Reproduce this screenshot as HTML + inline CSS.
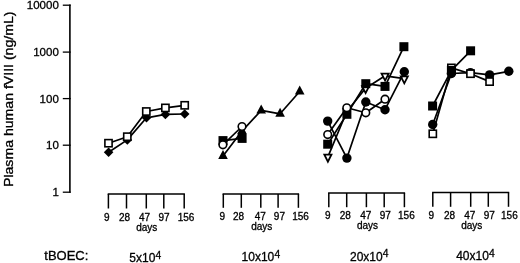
<!DOCTYPE html>
<html><head><meta charset="utf-8"><title>Plasma human fVIII</title>
<style>
html,body{margin:0;padding:0;background:#fff;}
body{width:520px;height:263px;overflow:hidden;}
svg{display:block;font-family:"Liberation Sans",sans-serif;fill:#000;}
text{stroke:#000;stroke-width:0.3px;}
</style></head><body>
<svg width="520" height="263" viewBox="0 0 520 263">
<rect width="520" height="263" fill="#fff"/>
<path d="M69.9 4.6 V192.8" stroke="#000" stroke-width="1.6" fill="none"/>
<path d="M62.8 5.2 H70.7" stroke="#000" stroke-width="1.3" fill="none"/>
<path d="M62.8 52.1 H70.7" stroke="#000" stroke-width="1.3" fill="none"/>
<path d="M62.8 98.6 H70.7" stroke="#000" stroke-width="1.3" fill="none"/>
<path d="M62.8 145.2 H70.7" stroke="#000" stroke-width="1.3" fill="none"/>
<path d="M62.8 192.2 H70.7" stroke="#000" stroke-width="1.3" fill="none"/>
<text x="58.8" y="9.2" font-size="11.5" text-anchor="end">10000</text>
<text x="58.8" y="56.1" font-size="11.5" text-anchor="end">1000</text>
<text x="58.8" y="102.6" font-size="11.5" text-anchor="end">100</text>
<text x="58.8" y="149.2" font-size="11.5" text-anchor="end">10</text>
<text x="58.8" y="196.2" font-size="11.5" text-anchor="end">1</text>
<text transform="translate(12.5 187) rotate(-90)" font-size="12" textLength="175.5" lengthAdjust="spacingAndGlyphs">Plasma human fVIII (ng/mL)</text>
<path d="M107.7 194.0 H184.9" stroke="#000" stroke-width="1.5" fill="none"/>
<path d="M108.4 194.0 V208.5" stroke="#000" stroke-width="1.5" fill="none"/>
<path d="M126.5 194.0 V208.5" stroke="#000" stroke-width="1.5" fill="none"/>
<path d="M146.3 194.0 V208.5" stroke="#000" stroke-width="1.5" fill="none"/>
<path d="M163.8 194.0 V208.5" stroke="#000" stroke-width="1.5" fill="none"/>
<path d="M184.2 194.0 V208.5" stroke="#000" stroke-width="1.5" fill="none"/>
<text x="106.7" y="220.5" font-size="10" text-anchor="middle">9</text>
<text x="124.5" y="220.5" font-size="10" text-anchor="middle">28</text>
<text x="144.5" y="220.5" font-size="10" text-anchor="middle">47</text>
<text x="164.0" y="220.5" font-size="10" text-anchor="middle">97</text>
<text x="186.0" y="220.5" font-size="10" text-anchor="middle">156</text>
<text x="146.8" y="230.6" font-size="10" text-anchor="middle">days</text>
<path d="M222.6 193.9 H299.1" stroke="#000" stroke-width="1.5" fill="none"/>
<path d="M223.3 193.9 V207.8" stroke="#000" stroke-width="1.5" fill="none"/>
<path d="M241.3 193.9 V207.8" stroke="#000" stroke-width="1.5" fill="none"/>
<path d="M260.8 193.9 V207.8" stroke="#000" stroke-width="1.5" fill="none"/>
<path d="M278.1 193.9 V207.8" stroke="#000" stroke-width="1.5" fill="none"/>
<path d="M298.4 193.9 V207.8" stroke="#000" stroke-width="1.5" fill="none"/>
<text x="222.3" y="219.9" font-size="10" text-anchor="middle">9</text>
<text x="238.6" y="219.9" font-size="10" text-anchor="middle">28</text>
<text x="260.3" y="219.9" font-size="10" text-anchor="middle">47</text>
<text x="279.4" y="219.9" font-size="10" text-anchor="middle">97</text>
<text x="300.5" y="219.9" font-size="10" text-anchor="middle">156</text>
<text x="261.8" y="230.0" font-size="10" text-anchor="middle">days</text>
<path d="M328.1 193.0 H405.1" stroke="#000" stroke-width="1.5" fill="none"/>
<path d="M328.8 193.0 V207.2" stroke="#000" stroke-width="1.5" fill="none"/>
<path d="M346.7 193.0 V207.2" stroke="#000" stroke-width="1.5" fill="none"/>
<path d="M366.4 193.0 V207.2" stroke="#000" stroke-width="1.5" fill="none"/>
<path d="M384.2 193.0 V207.2" stroke="#000" stroke-width="1.5" fill="none"/>
<path d="M404.4 193.0 V207.2" stroke="#000" stroke-width="1.5" fill="none"/>
<text x="327.7" y="219.3" font-size="10" text-anchor="middle">9</text>
<text x="345.3" y="219.3" font-size="10" text-anchor="middle">28</text>
<text x="365.8" y="219.3" font-size="10" text-anchor="middle">47</text>
<text x="385.2" y="219.3" font-size="10" text-anchor="middle">97</text>
<text x="406.4" y="219.3" font-size="10" text-anchor="middle">156</text>
<text x="367.5" y="229.4" font-size="10" text-anchor="middle">days</text>
<path d="M432.1 192.4 H509.2" stroke="#000" stroke-width="1.5" fill="none"/>
<path d="M432.8 192.4 V206.8" stroke="#000" stroke-width="1.5" fill="none"/>
<path d="M450.6 192.4 V206.8" stroke="#000" stroke-width="1.5" fill="none"/>
<path d="M470.7 192.4 V206.8" stroke="#000" stroke-width="1.5" fill="none"/>
<path d="M488.3 192.4 V206.8" stroke="#000" stroke-width="1.5" fill="none"/>
<path d="M508.5 192.4 V206.8" stroke="#000" stroke-width="1.5" fill="none"/>
<text x="431.2" y="218.8" font-size="10" text-anchor="middle">9</text>
<text x="449.6" y="218.8" font-size="10" text-anchor="middle">28</text>
<text x="469.7" y="218.8" font-size="10" text-anchor="middle">47</text>
<text x="489.3" y="218.8" font-size="10" text-anchor="middle">97</text>
<text x="509.4" y="218.8" font-size="10" text-anchor="middle">156</text>
<text x="471.8" y="228.8" font-size="10" text-anchor="middle">days</text>
<text x="44.3" y="259.6" font-size="13">tBOEC:</text>
<text x="129.3" y="262.0" font-size="12">5x10<tspan dx="0.1" dy="-3.5" font-size="10.3">4</tspan></text>
<text x="241.6" y="261.3" font-size="12">10x10<tspan dx="0.1" dy="-3.5" font-size="10.3">4</tspan></text>
<text x="350.0" y="260.6" font-size="12">20x10<tspan dx="0.1" dy="-3.5" font-size="10.3">4</tspan></text>
<text x="456.2" y="260.1" font-size="12">40x10<tspan dx="0.1" dy="-3.5" font-size="10.3">4</tspan></text>
<path d="M108.6 152.3 L127.3 139.9 L146.5 117.8 L165.4 114.4 L184.7 114.0" fill="none" stroke="#000" stroke-width="1.7" stroke-linejoin="round"/>
<path d="M108.6 147.5 L113.4 152.3 L108.6 157.1 L103.8 152.3Z" fill="#000"/>
<path d="M127.3 135.1 L132.1 139.9 L127.3 144.7 L122.5 139.9Z" fill="#000"/>
<path d="M146.5 113.0 L151.3 117.8 L146.5 122.6 L141.7 117.8Z" fill="#000"/>
<path d="M165.4 109.6 L170.2 114.4 L165.4 119.2 L160.6 114.4Z" fill="#000"/>
<path d="M184.7 109.2 L189.5 114.0 L184.7 118.8 L179.9 114.0Z" fill="#000"/>
<path d="M108.5 143.2 L127.3 136.7 L146.3 111.5 L165.4 107.9 L184.7 105.3" fill="none" stroke="#000" stroke-width="1.7" stroke-linejoin="round"/>
<rect x="104.90" y="139.60" width="7.20" height="7.20" fill="#fff" stroke="#000" stroke-width="1.6"/>
<rect x="123.70" y="133.10" width="7.20" height="7.20" fill="#fff" stroke="#000" stroke-width="1.6"/>
<rect x="142.70" y="107.90" width="7.20" height="7.20" fill="#fff" stroke="#000" stroke-width="1.6"/>
<rect x="161.80" y="104.30" width="7.20" height="7.20" fill="#fff" stroke="#000" stroke-width="1.6"/>
<rect x="181.10" y="101.70" width="7.20" height="7.20" fill="#fff" stroke="#000" stroke-width="1.6"/>
<path d="M223.0 156.1 L242.0 131.1 L261.2 110.4 L280.1 113.8 L299.7 91.5" fill="none" stroke="#000" stroke-width="1.7" stroke-linejoin="round"/>
<path d="M223.0 150.1 L227.8 159.1 L218.2 159.1Z" fill="#000"/>
<path d="M242.0 125.1 L246.8 134.1 L237.2 134.1Z" fill="#000"/>
<path d="M261.2 104.4 L266.0 113.4 L256.4 113.4Z" fill="#000"/>
<path d="M280.1 107.8 L284.9 116.8 L275.3 116.8Z" fill="#000"/>
<path d="M299.7 85.5 L304.5 94.5 L294.9 94.5Z" fill="#000"/>
<path d="M223.0 140.6 L242.1 138.4" fill="none" stroke="#000" stroke-width="1.7" stroke-linejoin="round"/>
<rect x="218.5" y="136.1" width="9.0" height="9.0" fill="#000"/>
<rect x="237.6" y="133.9" width="9.0" height="9.0" fill="#000"/>
<path d="M222.9 144.8 L242.0 126.5" fill="none" stroke="#000" stroke-width="1.7" stroke-linejoin="round"/>
<circle cx="222.9" cy="144.8" r="3.80" fill="#fff" stroke="#000" stroke-width="1.6"/>
<circle cx="242.0" cy="126.5" r="3.80" fill="#fff" stroke="#000" stroke-width="1.6"/>
<path d="M327.9 156.9 L346.8 111.5 L365.6 88.3 L385.1 75.8 L404.3 78.6" fill="none" stroke="#000" stroke-width="1.7" stroke-linejoin="round"/>
<path d="M324.36 154.65 L331.44 154.65 L327.90 161.65Z" fill="#fff" stroke="#000" stroke-width="1.8" stroke-linejoin="miter" stroke-miterlimit="10"/>
<path d="M343.26 109.25 L350.34 109.25 L346.80 116.25Z" fill="#fff" stroke="#000" stroke-width="1.8" stroke-linejoin="miter" stroke-miterlimit="10"/>
<path d="M362.06 86.05 L369.14 86.05 L365.60 93.05Z" fill="#fff" stroke="#000" stroke-width="1.8" stroke-linejoin="miter" stroke-miterlimit="10"/>
<path d="M381.56 73.55 L388.64 73.55 L385.10 80.55Z" fill="#fff" stroke="#000" stroke-width="1.8" stroke-linejoin="miter" stroke-miterlimit="10"/>
<path d="M400.76 76.35 L407.84 76.35 L404.30 83.35Z" fill="#fff" stroke="#000" stroke-width="1.8" stroke-linejoin="miter" stroke-miterlimit="10"/>
<path d="M327.7 144.2 L346.9 114.3 L365.8 83.7 L385.0 86.4 L403.9 46.7" fill="none" stroke="#000" stroke-width="1.7" stroke-linejoin="round"/>
<rect x="323.2" y="139.7" width="9.0" height="9.0" fill="#000"/>
<rect x="342.4" y="109.8" width="9.0" height="9.0" fill="#000"/>
<rect x="361.3" y="79.2" width="9.0" height="9.0" fill="#000"/>
<rect x="380.5" y="81.9" width="9.0" height="9.0" fill="#000"/>
<rect x="399.4" y="42.2" width="9.0" height="9.0" fill="#000"/>
<path d="M327.7 121.1 L346.9 158.1 L365.8 102.0 L385.0 109.7 L404.3 71.8" fill="none" stroke="#000" stroke-width="1.7" stroke-linejoin="round"/>
<circle cx="327.7" cy="121.1" r="4.7" fill="#000"/>
<circle cx="346.9" cy="158.1" r="4.7" fill="#000"/>
<circle cx="365.8" cy="102.0" r="4.7" fill="#000"/>
<circle cx="385.0" cy="109.7" r="4.7" fill="#000"/>
<circle cx="404.3" cy="71.8" r="4.7" fill="#000"/>
<path d="M327.7 134.6 L346.8 107.8 L365.8 112.8 L385.0 99.2" fill="none" stroke="#000" stroke-width="1.7" stroke-linejoin="round"/>
<circle cx="327.7" cy="134.6" r="3.80" fill="#fff" stroke="#000" stroke-width="1.6"/>
<circle cx="346.8" cy="107.8" r="3.80" fill="#fff" stroke="#000" stroke-width="1.6"/>
<circle cx="365.8" cy="112.8" r="3.80" fill="#fff" stroke="#000" stroke-width="1.6"/>
<circle cx="385.0" cy="99.2" r="3.80" fill="#fff" stroke="#000" stroke-width="1.6"/>
<path d="M432.7 124.5 L451.4 73.5 L470.4 72.6 L489.6 74.9 L508.8 71.3" fill="none" stroke="#000" stroke-width="1.7" stroke-linejoin="round"/>
<circle cx="432.7" cy="124.5" r="4.7" fill="#000"/>
<circle cx="451.4" cy="73.5" r="4.7" fill="#000"/>
<circle cx="470.4" cy="72.6" r="4.7" fill="#000"/>
<circle cx="489.6" cy="74.9" r="4.7" fill="#000"/>
<circle cx="508.8" cy="71.3" r="4.7" fill="#000"/>
<path d="M432.8 133.8 L451.4 67.9 L470.5 73.7 L489.6 81.6" fill="none" stroke="#000" stroke-width="1.7" stroke-linejoin="round"/>
<rect x="429.20" y="130.20" width="7.20" height="7.20" fill="#fff" stroke="#000" stroke-width="1.6"/>
<rect x="447.80" y="64.30" width="7.20" height="7.20" fill="#fff" stroke="#000" stroke-width="1.6"/>
<rect x="466.90" y="70.10" width="7.20" height="7.20" fill="#fff" stroke="#000" stroke-width="1.6"/>
<rect x="486.00" y="78.00" width="7.20" height="7.20" fill="#fff" stroke="#000" stroke-width="1.6"/>
<path d="M432.6 106.0 L451.4 70.4 L470.6 50.8" fill="none" stroke="#000" stroke-width="1.7" stroke-linejoin="round"/>
<rect x="428.1" y="101.5" width="9.0" height="9.0" fill="#000"/>
<rect x="446.9" y="65.9" width="9.0" height="9.0" fill="#000"/>
<rect x="466.1" y="46.3" width="9.0" height="9.0" fill="#000"/>
</svg>
</body></html>
